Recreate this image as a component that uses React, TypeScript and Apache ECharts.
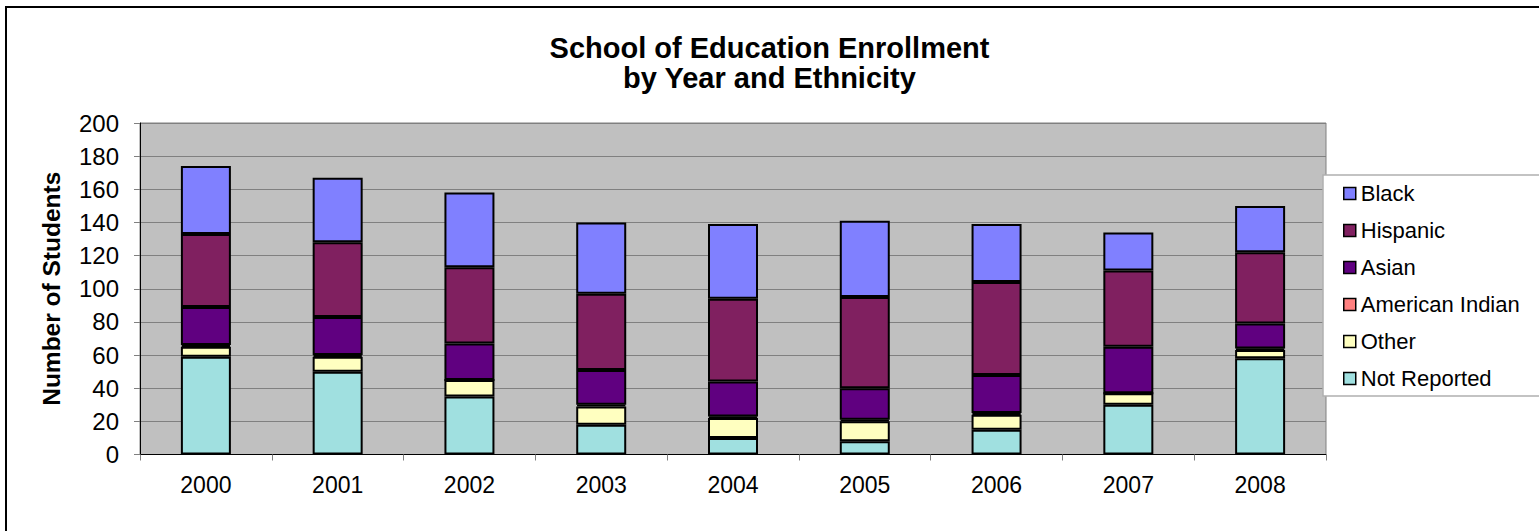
import React, { useEffect, useRef } from "react";
import * as echarts from "echarts";

const years = ["2000", "2001", "2002", "2003", "2004", "2005", "2006", "2007", "2008"];
const notReported = [59, 50, 35, 18, 10, 8, 15, 30, 58];
const other = [6, 9, 10, 11, 12, 12, 9, 7, 5];
const americanIndian = [1, 1, 0, 1, 1, 1, 1, 0, 1];
const asian = [23, 23, 22, 21, 21, 19, 23, 28, 15];
const hispanic = [44, 45, 46, 46, 50, 55, 56, 46, 43];
const black = [41, 39, 45, 43, 45, 46, 35, 23, 28];
const legendOrder = ["Black", "Hispanic", "Asian", "American Indian", "Other", "Not Reported"];

const FONT = 'Arial, "Liberation Sans", sans-serif';

export default function App() {
  const ref = useRef<HTMLDivElement>(null);
  useEffect(() => {
    document.body.style.margin = "0";
    const chart = echarts.init(ref.current!, null, { renderer: "svg" });
    const mk = (name: string, data: number[], color: string) => ({
      name,
      type: "bar",
      stack: "total",
      data,
      barWidth: 50,
      itemStyle: { color, borderColor: "#000", borderWidth: 2 },
    });
    chart.setOption({
      animation: false,
      backgroundColor: "#fff",
      title: {
        text: "School of Education Enrollment\nby Year and Ethnicity",
        left: "center",
        top: 28,
        textStyle: { fontFamily: FONT, fontSize: 29, fontWeight: "bold", color: "#000", lineHeight: 30 },
      },
      grid: {
        left: 140,
        top: 123,
        width: 1186,
        height: 331.5,
        show: true,
        backgroundColor: "#C0C0C0",
        borderColor: "#808080",
        borderWidth: 1,
      },
      legend: {
        orient: "vertical",
        left: 1343,
        top: 181,
        padding: 0,
        itemWidth: 12,
        itemHeight: 12,
        itemGap: 12,
        icon: "rect",
        z: 200,
        data: legendOrder,
        itemStyle: { borderColor: "#000", borderWidth: 1.5 },
        textStyle: { fontFamily: FONT, fontSize: 22, color: "#000", lineHeight: 25 },
      },
      xAxis: {
        type: "category",
        data: years,
        axisLine: { lineStyle: { color: "#000", width: 1 } },
        axisTick: { show: true, length: 6, lineStyle: { color: "#808080" } },
        axisLabel: { fontFamily: FONT, fontSize: 23, color: "#000", margin: 19 },
      },
      yAxis: {
        type: "value",
        min: 0,
        max: 200,
        interval: 20,
        name: "Number of Students",
        nameLocation: "middle",
        nameRotate: 90,
        nameGap: 76,
        nameTextStyle: { fontFamily: FONT, fontSize: 24.5, fontWeight: "bold", color: "#000" },
        axisLine: { show: true, lineStyle: { color: "#000", width: 1 } },
        axisTick: { show: true, length: 6, lineStyle: { color: "#808080" } },
        axisLabel: { fontFamily: FONT, fontSize: 24, color: "#000", margin: 21 },
        splitLine: { show: true, lineStyle: { color: "#808080", width: 1 } },
      },
      graphic: [
        {
          type: "rect",
          shape: { x: 6, y: 7, width: 1700, height: 700 },
          style: { fill: "none", stroke: "#000", lineWidth: 2 },
          z: 0,
          silent: true,
        },
        {
          type: "rect",
          shape: { x: 1323, y: 175, width: 400, height: 221 },
          style: { fill: "#fff", stroke: "#B0B0B0", lineWidth: 1.5 },
          z: 100,
          silent: true,
        },
      ],
      series: [
        mk("Not Reported", notReported, "#A0E0E0"),
        mk("Other", other, "#FFFFC0"),
        mk("American Indian", americanIndian, "#FF8080"),
        mk("Asian", asian, "#600080"),
        mk("Hispanic", hispanic, "#802060"),
        mk("Black", black, "#8080FF"),
      ],
    });
    return () => chart.dispose();
  }, []);
  return (
    <div
      ref={ref}
      style={{ position: "absolute", left: 0, top: 0, width: 1539, height: 531 }}
    />
  );
}
